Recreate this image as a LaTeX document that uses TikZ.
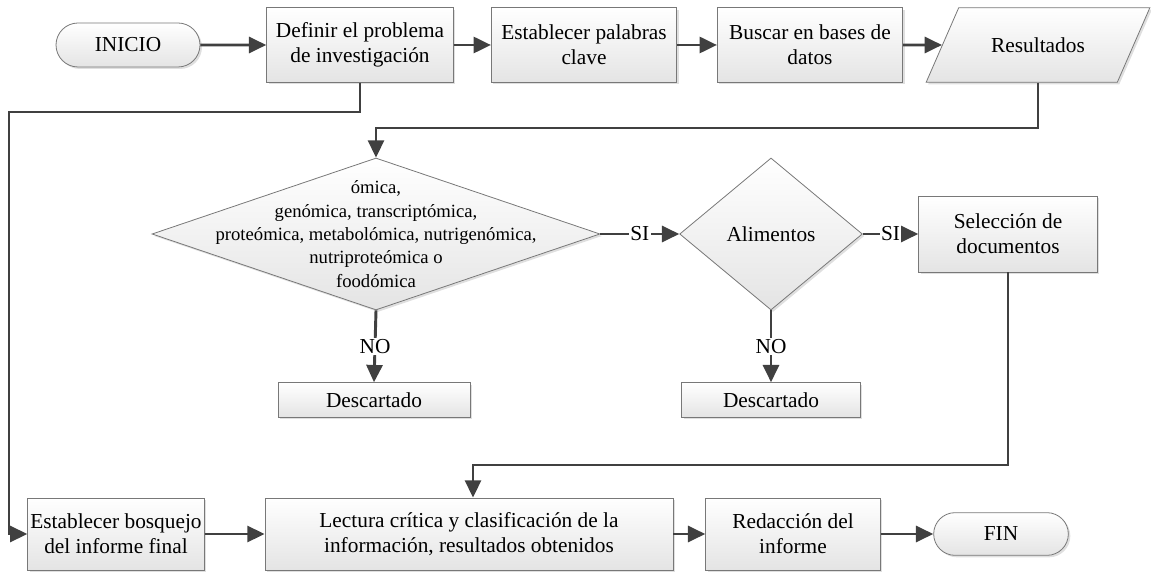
\documentclass[tikz,border=0pt]{standalone}
\usepackage{fontspec}
\setmainfont[Ligatures=TeX]{Liberation Serif}
\newfontfamily\letra{Liberation Serif}
\usetikzlibrary{arrows.meta,shapes.geometric,shapes.misc,shadows}
\definecolor{linea}{RGB}{64,64,64}
\definecolor{borde}{RGB}{120,120,120}
\definecolor{relleno}{RGB}{228,228,228}

\tikzset{
  base/.style={draw=borde, line width=0.6pt, top color=white, bottom color=relleno,
    drop shadow={opacity=0.25, shadow xshift=1.5pt, shadow yshift=-1.5pt},
    font=\letra\fontsize{16}{19}\selectfont, align=center, inner sep=2pt},
  caja/.style={base, rectangle},
  term/.style={base, rounded rectangle},
  decision/.style={base, diamond, inner sep=0pt},
  datos/.style={base, trapezium, trapezium left angle=45, trapezium right angle=135,
    trapezium stretches=true},
  flecha/.style={draw=linea, line width=2.2pt, -{Triangle[length=13pt,width=12pt]}},
  etiq/.style={fill=white, inner sep=1pt, font=\letra\fontsize{16}{19}\selectfont}
}

\begin{document}
\begin{tikzpicture}[x=0.75pt, y=-0.75pt]
\useasboundingbox (0,0) rectangle (1151,573);

% fila superior
\node[term, minimum width=112pt, minimum height=33pt] (ini) at (128,45) {INICIO};
\node[caja, minimum width=140pt, minimum height=56pt] (def) at (360,45) {Definir el problema\\de investigación};
\node[caja, minimum width=139pt, minimum height=56pt] (est) at (584,45) {Establecer palabras\\clave};
\node[caja, minimum width=139pt, minimum height=56pt] (bus) at (810,45) {Buscar en bases de\\datos};
\node[datos, minimum width=168pt, minimum height=56pt] (res) at (1038,45) {Resultados};

% decisiones
\node[decision, minimum width=336pt, minimum height=114pt] (d1) at (376,234) {};
\node[font=\letra\fontsize{14}{17.5}\selectfont, align=center] (d1t) at (d1.center)
  {ómica,\\genómica, transcriptómica,\\proteómica, metabolómica, nutrigenómica,\\nutriproteómica o\\foodómica};
\node[decision, minimum width=137pt, minimum height=114pt] (d2) at (771,234) {Alimentos};
\node[caja, minimum width=134pt, minimum height=57pt] (sel) at (1008,234) {Selección de\\documentos};
\node[caja, minimum width=144pt, minimum height=26pt] (ds1) at (374,400) {Descartado};
\node[caja, minimum width=134pt, minimum height=26pt] (ds2) at (771,400) {Descartado};

% fila inferior
\node[caja, minimum width=125pt, minimum height=54pt] (bos) at (116,534) {Establecer bosquejo\\del informe final};
\node[caja, minimum width=306pt, minimum height=54pt] (lec) at (469,534) {Lectura crítica y clasificación de la\\información, resultados obtenidos};
\node[caja, minimum width=131pt, minimum height=54pt] (red) at (793,534) {Redacción del\\informe};
\node[term, minimum width=105pt, minimum height=32pt] (fin) at (1001,534) {FIN};

\coordinate (r1) at (0,128);
\coordinate (r2) at (9,112);
\coordinate (r3) at (0,465);
\coordinate (c1) at (473,0);

% conectores
\draw[flecha] (ini) -- (def);
\draw[flecha] (def) -- (est);
\draw[flecha] (est) -- (bus);
\draw[flecha] (bus) -- (res);
\draw[flecha] (res.south) -- (res.south |- r1) -| (d1.north);
\draw[flecha] (d1.east) -- node[etiq] {SI} (d2.west);
\draw[flecha] (d2.east) -- node[etiq] {SI} (sel.west);
\draw[flecha] (d1.south) -- node[etiq] {NO} (ds1.north);
\draw[flecha] (d2.south) -- node[etiq] {NO} (ds2.north);
\draw[flecha] (sel.south) -- (sel.south |- r3) -| (c1 |- lec.north);
\draw[flecha] (def.south) |- (r2) |- (bos.west);
\draw[flecha] (bos) -- (lec);
\draw[flecha] (lec) -- (red);
\draw[flecha] (red) -- (fin);
\end{tikzpicture}
\end{document}
